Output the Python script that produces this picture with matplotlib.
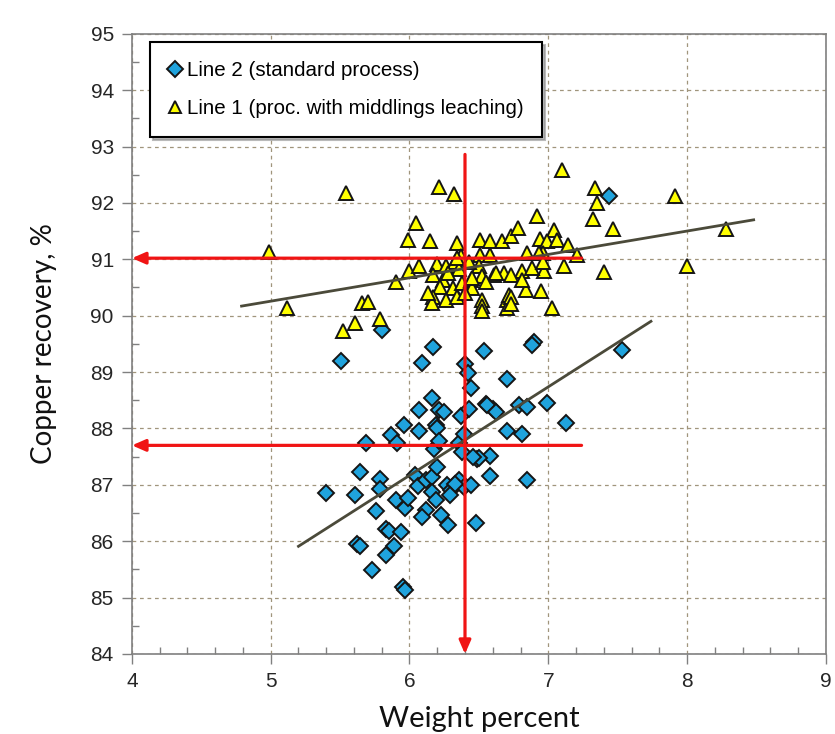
import matplotlib
matplotlib.use('Agg')
import matplotlib.pyplot as plt
from matplotlib.ticker import MultipleLocator

# Line 2 (standard process): weight percent vs copper recovery
line2_wt = [5.80, 5.51, 6.17, 6.09, 6.40, 6.42, 6.54, 6.44, 6.16, 6.07,
            6.21, 6.25, 6.37, 6.43, 6.55, 6.60, 5.96, 6.07, 6.19, 6.20,
            5.87, 5.91, 5.69, 6.18, 6.21, 6.36, 6.38, 6.39, 6.49, 6.58,
            6.58, 5.64, 5.79, 5.79, 5.40, 5.61, 6.04, 6.06, 6.12, 6.16,
            6.20, 6.27, 6.30, 6.36, 6.39, 6.44, 6.16, 6.19, 5.90, 5.97,
            5.99, 5.76, 6.12, 6.09, 6.23, 6.28, 6.48, 5.83, 5.85, 5.94,
            5.62, 5.64, 5.89, 5.83, 5.73, 5.95, 5.97, 6.90, 6.88, 7.53,
            6.70, 6.99, 6.79, 6.85, 7.13, 6.70, 6.81, 6.50, 6.85, 6.56,
            6.62, 7.44, 6.33, 6.29, 6.46]
line2_rec = [89.75, 89.19, 89.45, 89.16, 89.15, 88.99, 89.38, 88.72, 88.54, 88.33,
             88.33, 88.29, 88.22, 88.35, 88.44, 88.35, 88.07, 87.95, 88.07, 88.00,
             87.88, 87.75, 87.75, 87.63, 87.78, 87.75, 87.58, 87.91, 87.46, 87.52,
             87.15, 87.23, 87.11, 86.93, 86.85, 86.82, 87.17, 86.98, 87.08, 87.14,
             87.32, 86.99, 86.90, 87.08, 86.96, 86.99, 86.88, 86.73, 86.73, 86.59,
             86.77, 86.53, 86.56, 86.43, 86.47, 86.28, 86.33, 86.21, 86.19, 86.16,
             85.95, 85.92, 85.91, 85.76, 85.49, 85.18, 85.14, 89.54, 89.48, 89.40,
             88.88, 88.45, 88.42, 88.38, 88.10, 87.95, 87.90, 87.47, 87.08, 88.42,
             88.29, 92.13, 87.02, 86.82, 87.50]

# Line 1 (process with middlings leaching)
line1_wt = [4.99, 5.12, 5.54, 5.52, 5.61, 5.66, 5.70, 5.79, 5.90, 5.99,
            6.00, 6.05, 6.07, 6.15, 6.21, 6.32, 6.34, 6.20, 6.26, 6.33,
            6.17, 6.24, 6.22, 6.31, 6.38, 6.44, 6.17, 6.16, 6.26, 6.34,
            6.36, 6.37, 6.34, 6.45, 6.51, 6.58, 6.67, 6.51, 6.58, 6.50,
            6.61, 6.68, 6.52, 6.52, 6.52, 6.52, 6.70, 6.70, 6.72, 6.73,
            6.78, 6.92, 7.04, 6.94, 6.99, 7.06, 7.14, 7.21, 6.85, 6.96,
            6.95, 6.84, 6.97, 6.81, 6.73, 6.62, 6.45, 7.11, 7.03, 7.10,
            7.34, 7.35, 7.32, 7.47, 7.40, 7.91, 8.28, 8.00, 6.93, 6.88,
            6.96, 6.81, 6.73, 6.73, 6.43, 6.40, 6.55, 6.13, 6.28]
line1_rec = [91.13, 90.14, 92.18, 89.72, 89.87, 90.22, 90.25, 89.94, 90.59, 91.34,
             90.80, 91.65, 90.89, 91.33, 92.28, 92.16, 91.29, 90.91, 90.89, 90.95,
             90.73, 90.64, 90.51, 90.49, 90.58, 90.64, 90.34, 90.22, 90.28, 90.33,
             90.82, 91.05, 91.02, 90.49, 91.34, 91.32, 91.32, 91.08, 91.08, 90.88,
             90.73, 90.76, 90.70, 90.28, 90.17, 90.08, 90.28, 90.14, 90.37, 91.41,
             91.56, 91.76, 91.52, 91.36, 91.32, 91.35, 91.26, 91.08, 91.12, 91.11,
             90.43, 90.45, 90.80, 90.79, 90.73, 90.76, 90.67, 90.88, 90.14, 92.58,
             92.27, 92.00, 91.72, 91.54, 90.78, 92.13, 91.53, 90.88, 91.11, 90.85,
             90.96, 90.64, 90.34, 90.20, 90.95, 90.40, 90.60, 90.40, 90.75]

# linear trends (endpoints)
trend2_x = [5.20, 7.74]
trend2_y = [85.91, 89.90]
trend1_x = [4.79, 8.48]
trend1_y = [90.17, 91.70]

# read-off guides
guide_x = 6.40
guide_y = [91.02, 87.70]
guide_top = 92.86
guide_end = 7.24

TICK_FONT = ['Liberation Sans', 'DejaVu Sans']
LABEL_FONT = ['Lato', 'DejaVu Sans']

fig = plt.figure(figsize=(8.35, 7.34), dpi=100)
ax = fig.add_axes([0.158, 0.109, 0.831, 0.845])

ax.plot(line2_wt, line2_rec, linestyle='none', marker='D', markersize=8,
        markerfacecolor='#1fa3dd', markeredgecolor='#151515', markeredgewidth=1.4,
        label='Line 2 (standard process)', zorder=3)
ax.plot(line1_wt, line1_rec, linestyle='none', marker='^', markersize=10,
        markerfacecolor='#ffff00', markeredgecolor='#151515', markeredgewidth=1.4,
        label='Line 1 (proc. with middlings leaching)', zorder=3)

ax.plot(trend2_x, trend2_y, color='#4b4a3a', linewidth=2, zorder=4)
ax.plot(trend1_x, trend1_y, color='#4b4a3a', linewidth=2, zorder=4)

red = '#f01414'
arrow = dict(arrowstyle='-|>,head_length=0.8,head_width=0.35', color=red, lw=2.3,
             shrinkA=0, shrinkB=0)
ax.annotate('', xy=(guide_x, 84), xytext=(guide_x, guide_top), arrowprops=arrow, zorder=5)
for gy in guide_y:
    ax.annotate('', xy=(4, gy), xytext=(guide_end, gy), arrowprops=arrow, zorder=5)

ax.set_xlim(4, 9)
ax.set_ylim(84, 95)
ax.xaxis.set_major_locator(MultipleLocator(1))
ax.xaxis.set_minor_locator(MultipleLocator(0.2))
ax.yaxis.set_major_locator(MultipleLocator(1))
ax.yaxis.set_minor_locator(MultipleLocator(0.5))
ax.tick_params(which='major', direction='out', length=7, width=1, color='#808080',
               labelsize=15, labelcolor='#262626', pad=6)
ax.tick_params(which='minor', direction='in', length=5, width=1, color='#808080')
for lab in ax.get_xticklabels() + ax.get_yticklabels():
    lab.set_family(TICK_FONT)

ax.grid(True, which='major', linestyle=(0, (3, 3)), color='#a0957c', linewidth=0.9)
ax.set_axisbelow(True)
for sp in ax.spines.values():
    sp.set_color('#808080')
    sp.set_linewidth(1.2)

ax.set_xlabel('Weight percent', fontsize=21, family=LABEL_FONT, color='#111111', labelpad=11)
ax.set_ylabel('Copper recovery, %', fontsize=20, family=LABEL_FONT, color='#111111', labelpad=24)

leg = ax.legend(loc='upper left', bbox_to_anchor=(0.026, 0.986), borderaxespad=0,
                frameon=True, fancybox=False, shadow={'color': '0.55', 'alpha': 0.6},
                edgecolor='black', framealpha=1, handlelength=0.6, handletextpad=0.3,
                labelspacing=0.95, borderpad=0.9, prop={'family': TICK_FONT, 'size': 14.8})
leg.get_frame().set_linewidth(1.5)
for h in leg.legend_handles:
    h.set_markersize(8)

fig.savefig('out.png', dpi=100)
